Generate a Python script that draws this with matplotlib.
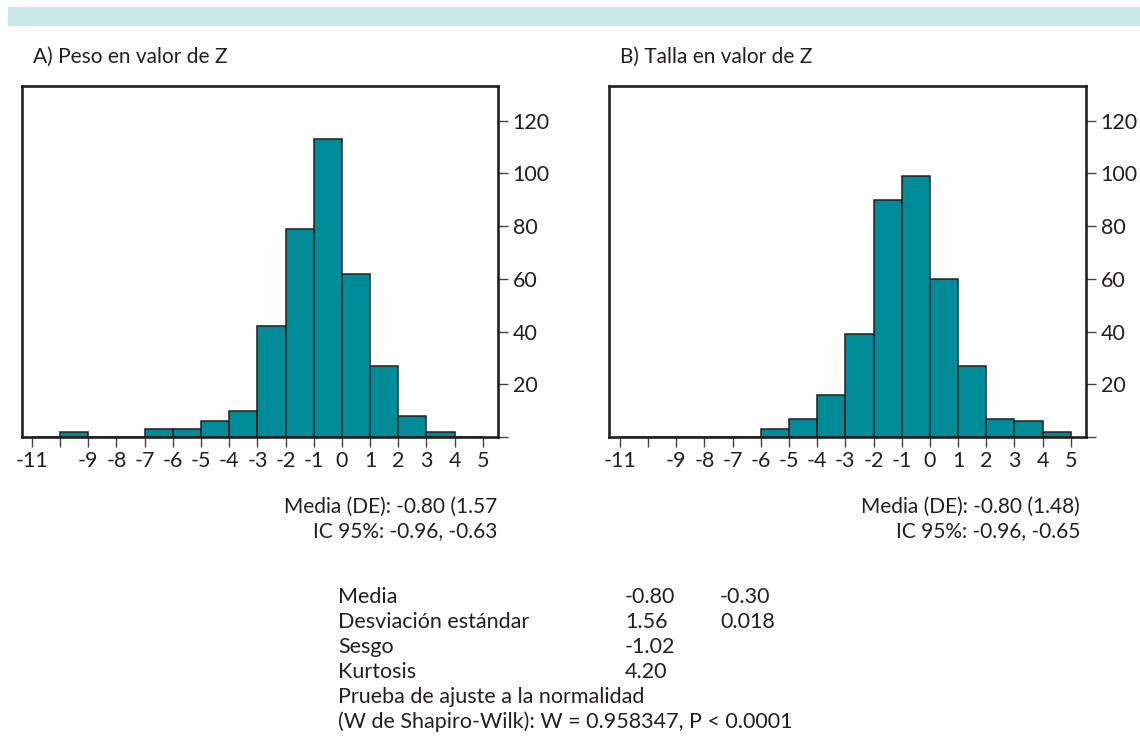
import matplotlib.pyplot as plt
from matplotlib.patches import Rectangle

plt.rcParams['font.family'] = ['Lato', 'DejaVu Sans']

W, H = 1140, 736

# integer bins from -11 to 5
bin_left = list(range(-11, 5))
peso_counts = [0, 2, 0, 0, 3, 3, 6, 10, 42, 79, 113, 62, 27, 8, 2, 0]
talla_counts = [0, 0, 0, 0, 0, 3, 7, 16, 39, 90, 99, 60, 27, 7, 6, 2]

x_ticks = list(range(-11, 6))
x_labels = ['' if t == -10 else str(t) for t in x_ticks]
y_ticks = [0, 20, 40, 60, 80, 100, 120]
y_labels = ['', '20', '40', '60', '80', '100', '120']

titles = ['A) Peso en valor de Z', 'B) Talla en valor de Z']
stats_a = ['Media (DE): -0.80 (1.57', 'IC 95%: -0.96, -0.63']
stats_b = ['Media (DE): -0.80 (1.48)', 'IC 95%: -0.96, -0.65']

tabla_nombres = ['Media', 'Desviación estándar', 'Sesgo', 'Kurtosis',
                 'Prueba de ajuste a la normalidad',
                 '(W de Shapiro-Wilk): W = 0.958347, P < 0.0001']
tabla_col1 = ['-0.80', '1.56', '-1.02', '4.20']
tabla_col2 = ['-0.30', '0.018']

BAR = '#008b99'
DARK = '#231f20'
TXT = '#231f20'


def px_axes(fig, left, top, right, bottom):
    return fig.add_axes([left / W, 1 - bottom / H, (right - left) / W, (bottom - top) / H])


def draw_hist(ax, counts, xlim):
    ax.bar(bin_left, counts, width=1, align='edge', color=BAR,
           edgecolor=DARK, linewidth=1.1, zorder=2)
    ax.set_xlim(*xlim)
    ax.set_ylim(0, 133.2)
    ax.yaxis.tick_right()
    ax.set_yticks(y_ticks)
    ax.set_yticklabels(y_labels)
    ax.set_xticks(x_ticks)
    ax.set_xticklabels(x_labels)
    ax.tick_params(axis='x', direction='out', length=7, width=1, color='#444444',
                   labelsize=15.5, labelcolor=TXT, pad=3)
    ax.tick_params(axis='y', direction='out', length=7, width=1, color='#444444',
                   labelsize=15.5, labelcolor=TXT, pad=4)
    for s in ax.spines.values():
        s.set_linewidth(1.9)
        s.set_color(DARK)
        s.set_zorder(3)


fig = plt.figure(figsize=(W / 100, H / 100), dpi=100)
fig.patches.append(Rectangle((8 / W, 1 - 25 / H), 1 - 8 / W, 18 / H,
                             transform=fig.transFigure, color='#cde8eb', zorder=0))

ax_a = px_axes(fig, 21.5, 86, 497.5, 437)
draw_hist(ax_a, peso_counts, (-11.37, 5.52))
ax_b = px_axes(fig, 608.5, 86, 1085.5, 437)
draw_hist(ax_b, talla_counts, (-11.40, 5.52))

fig.text(33 / W, 1 - 57 / H, titles[0], fontsize=15, color=TXT, va='center', ha='left')
fig.text(620 / W, 1 - 57 / H, titles[1], fontsize=15, color=TXT, va='center', ha='left')

for i, s in enumerate(stats_a):
    fig.text(497 / W, 1 - (507 + 24 * i) / H, s, fontsize=15, color=TXT, ha='right', va='center')
for i, s in enumerate(stats_b):
    fig.text(1080 / W, 1 - (507 + 24 * i) / H, s, fontsize=15, color=TXT, ha='right', va='center')

for i, s in enumerate(tabla_nombres):
    fig.text(338 / W, 1 - (597 + 25 * i) / H, s, fontsize=15.5, color=TXT, ha='left', va='center')
for i, s in enumerate(tabla_col1):
    fig.text(625 / W, 1 - (597 + 25 * i) / H, s, fontsize=15.5, color=TXT, ha='left', va='center')
for i, s in enumerate(tabla_col2):
    fig.text(720 / W, 1 - (597 + 25 * i) / H, s, fontsize=15.5, color=TXT, ha='left', va='center')

fig.savefig('out.png', dpi=100)
